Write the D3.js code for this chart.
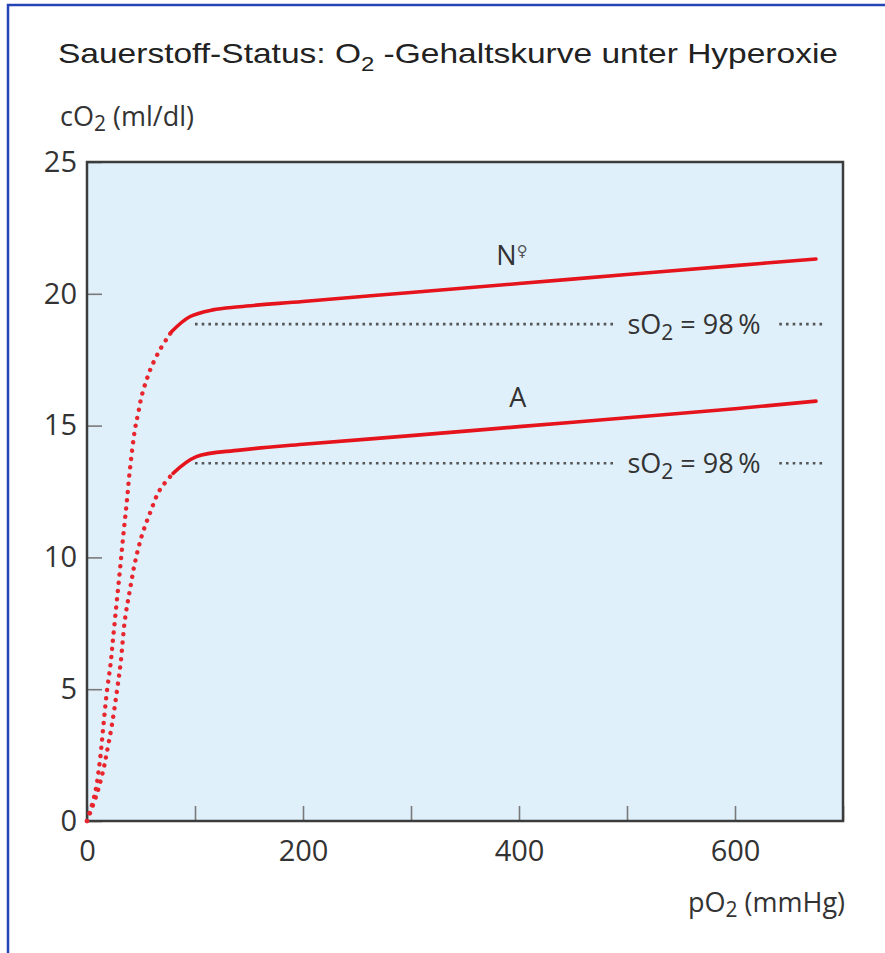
<!DOCTYPE html>
<meta charset="utf-8">
<style>
body { margin: 0; background: #fff; }
.tick text { font-family: "Open Sans", sans-serif; font-size: 29px; fill: #333; }
.lbl { font-family: "Open Sans", sans-serif; font-size: 27px; fill: #333; }
.title { font-family: "Liberation Sans", Arial, sans-serif; font-size: 28px; fill: #222; }
</style>
<svg width="885" height="953"></svg>
<script src="https://d3js.org/d3.v7.min.js"></script>
<script>

// curve N (normal, female) : pO2 (mmHg) -> cO2 (ml/dl)
var pO2N = [0, 7.4, 12, 15.1, 18.2, 21.9, 24.3, 27.4, 30.5, 33.5, 36.7, 39.7, 44.3, 47.4, 50.5, 55.1, 59.7, 67.4, 75.1, 78.2, 95.1, 116.4, 141.3, 200, 300, 400, 500, 600, 675];
var cO2N = [0, 1.05, 2.31, 3.58, 4.84, 5.98, 6.99, 8.26, 9.52, 10.79, 12.05, 13.32, 14.83, 15.47, 16.10, 16.73, 17.23, 17.87, 18.37, 18.56, 19.13, 19.39, 19.51, 19.71, 20.05, 20.39, 20.73, 21.07, 21.32];

// curve A (anaemia)
var pO2A = [0, 8.5, 15.1, 18.2, 22.8, 27.4, 31.1, 35.1, 39.7, 44.3, 50.5, 58.2, 67.4, 79.7, 101.3, 141.3, 200, 300, 400, 500, 600, 675];
var cO2A = [0, 0.95, 1.93, 2.57, 3.58, 4.84, 5.98, 7.63, 8.76, 9.78, 10.79, 11.67, 12.56, 13.19, 13.82, 14.07, 14.29, 14.62, 14.96, 15.3, 15.64, 15.93];

// pO2 from which the curves are drawn solid (below: dotted)
var solidFrom = [78.2, 79.7];

// sO2 = 98 % reference levels
var satLevels = [18.85, 13.57];
var satLabel = "98\u2009%";

var xTicks = [0, 100, 200, 300, 400, 500, 600, 700];
var xLabels = [0, 200, 400, 600];
var yTicks = [0, 5, 10, 15, 20, 25];

var svg = d3.select("svg");

var pL = 87, pR = 843, pT = 162, pB = 821;

var x = d3.scaleLinear().domain([0, 700]).range([pL, pR]);
var y = d3.scaleLinear().domain([0, 25]).range([pB, pT]);

// blue frame of the picture
svg.append("path")
    .attr("d", "M8,953V5H885")
    .attr("fill", "none")
    .attr("stroke", "#2443b4")
    .attr("stroke-width", 2.5);

// plot background
svg.append("rect")
    .attr("x", pL).attr("y", pT)
    .attr("width", pR - pL).attr("height", pB - pT)
    .attr("fill", "#dff0fb");

// axes with inner ticks
svg.append("g")
    .attr("transform", "translate(" + pL + ",0)")
    .call(d3.axisLeft(y).tickValues(yTicks).tickSizeInner(-15).tickSizeOuter(0).tickPadding(10))
    .call(function(g) { g.select(".domain").remove(); });

svg.append("g")
    .attr("transform", "translate(0," + pB + ")")
    .call(d3.axisBottom(x).tickValues(xTicks).tickSizeInner(-15).tickSizeOuter(0).tickPadding(19)
        .tickFormat(function(d) { return xLabels.indexOf(d) >= 0 ? d : ""; }))
    .call(function(g) { g.select(".domain").remove(); });

svg.selectAll(".tick line").attr("stroke", "#7a7a7a").attr("stroke-width", 1.6);

// plot frame
svg.append("rect")
    .attr("x", pL).attr("y", pT)
    .attr("width", pR - pL).attr("height", pB - pT)
    .attr("fill", "none")
    .attr("stroke", "#3c3c3c")
    .attr("stroke-width", 2.5);

// sO2 = 98 % dotted reference lines
var refSegs = [[100, 488], [641, 683]];
satLevels.forEach(function(v) {
  refSegs.forEach(function(s) {
    svg.append("line")
        .attr("x1", x(s[0])).attr("x2", x(s[1]))
        .attr("y1", y(v)).attr("y2", y(v))
        .attr("stroke", "#555")
        .attr("stroke-width", 2.6)
        .attr("stroke-dasharray", "2.6 4.1");
  });
  var t = svg.append("text")
      .attr("class", "lbl")
      .attr("font-size", "28px")
      .attr("x", x(562)).attr("y", y(v) + 10)
      .attr("text-anchor", "middle");
  t.append("tspan").text("sO");
  t.append("tspan").attr("font-size", "21px").attr("dy", 6).text("2");
  t.append("tspan").attr("dy", -6).text(" = " + satLabel);
});

// oxygen content curves
var line = d3.line()
    .x(function(d) { return x(d[0]); })
    .y(function(d) { return y(d[1]); })
    .curve(d3.curveCatmullRom.alpha(0.5));

[[pO2N, cO2N], [pO2A, cO2A]].forEach(function(c, i) {
  var pts = c[0].map(function(p, j) { return [p, c[1][j]]; });
  var dotted = pts.filter(function(d) { return d[0] <= solidFrom[i]; });
  var solid = pts.filter(function(d) { return d[0] >= solidFrom[i]; });
  svg.append("path")
      .attr("d", line(dotted))
      .attr("fill", "none")
      .attr("stroke", "#e8262e")
      .attr("stroke-width", 4.4)
      .attr("stroke-linecap", "round")
      .attr("stroke-dasharray", "0.1 8.2");
  svg.append("path")
      .attr("d", line(solid))
      .attr("fill", "none")
      .attr("stroke", "#e5131b")
      .attr("stroke-width", 3.6)
      .attr("stroke-linecap", "round");
});

// curve labels
var nl = svg.append("text").attr("class", "lbl")
    .attr("x", x(379)).attr("y", y(21.1));
nl.append("tspan").text("N");
nl.append("tspan").attr("font-family", "DejaVu Sans").attr("font-size", "15px")
    .attr("fill", "#555").attr("dy", -9).text("\u2640");

svg.append("text").attr("class", "lbl")
    .attr("x", x(391)).attr("y", y(15.72))
    .text("A");

// axis titles
var yl = svg.append("text").attr("class", "lbl").attr("x", 60).attr("y", 126)
    .attr("font-size", "29px");
yl.append("tspan").text("cO");
yl.append("tspan").attr("font-size", "21px").attr("dy", 5).text("2");
yl.append("tspan").attr("dy", -5).text(" (ml/dl)");

var xl = svg.append("text").attr("class", "lbl").attr("x", 845).attr("y", 912)
    .attr("font-size", "28px")
    .attr("text-anchor", "end");
xl.append("tspan").text("pO");
xl.append("tspan").attr("font-size", "21px").attr("dy", 5).text("2");
xl.append("tspan").attr("dy", -5).text(" (mmHg)");

// title
var tt = svg.append("text").attr("class", "title").attr("x", 58).attr("y", 63)
    .attr("textLength", 780).attr("lengthAdjust", "spacingAndGlyphs");
tt.append("tspan").text("Sauerstoff-Status: O");
tt.append("tspan").attr("font-size", "20px").attr("dy", 8).text("2");
tt.append("tspan").attr("dy", -8).text(" -Gehaltskurve unter Hyperoxie");

</script>
